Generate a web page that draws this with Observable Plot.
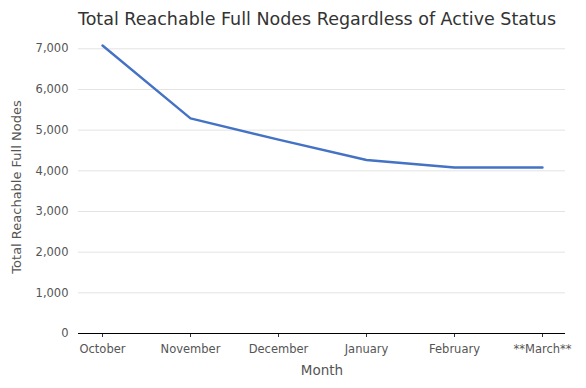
<!DOCTYPE html>
<html>
<head>
<meta charset="utf-8">
<script src="https://cdn.jsdelivr.net/npm/d3@7"></script>
<script src="https://cdn.jsdelivr.net/npm/@observablehq/plot@0.6"></script>
<style>
  html, body { margin: 0; padding: 0; background: #fff; }
  svg { font-family: "DejaVu Sans", sans-serif; }
</style>
</head>
<body>
<div id="chart"></div>
<script>
const months = ["October", "November", "December", "January", "February", "**March**"];
const nodes = [7080, 5290, 4765, 4265, 4080, 4080];
const yTicks = [0, 1000, 2000, 3000, 4000, 5000, 6000, 7000];
const titleText = "Total Reachable Full Nodes Regardless of Active Status";

const data = months.map((m, i) => ({month: m, value: nodes[i]}));

const chart = Plot.plot({
  width: 586,
  height: 388,
  marginLeft: 78,
  marginRight: 21,
  marginTop: 30,
  marginBottom: 55,
  style: {fontFamily: "'DejaVu Sans', sans-serif", fontSize: "11.5px", color: "#555", background: "#fff"},
  x: {type: "point", domain: months, padding: 0.25, label: null},
  y: {domain: [0, 7450], label: null},
  marks: [
    Plot.gridY(yTicks, {stroke: "#e3e3e3", strokeOpacity: 1, strokeWidth: 1}),
    Plot.axisY(yTicks, {tickSize: 0, tickPadding: 10, tickFormat: d3.format(","), fill: "#555", fontSize: 11.5}),
    Plot.axisX({tickSize: 4, tickPadding: 7, fill: "#555", fontSize: 11.5, stroke: "#333"}),
    Plot.ruleY([0], {stroke: "#000", strokeWidth: 1}),
    Plot.lineY(data, {x: "month", y: "value", stroke: "#4472c4", strokeWidth: 2.4}),
    Plot.text([titleText], {frameAnchor: "top", dx: -5, dy: -18, fontSize: 17.5, fill: "#333", text: d => d}),
    Plot.text(["Month"], {frameAnchor: "bottom", dy: 41, fontSize: 13.5, fill: "#555", text: d => d}),
    Plot.text(["Total Reachable Full Nodes"], {frameAnchor: "left", textAnchor: "middle", dx: -62, dy: 5, rotate: -90, fontSize: 13, fill: "#555", text: d => d})
  ]
});
document.getElementById("chart").appendChild(chart);
</script>
</body>
</html>
